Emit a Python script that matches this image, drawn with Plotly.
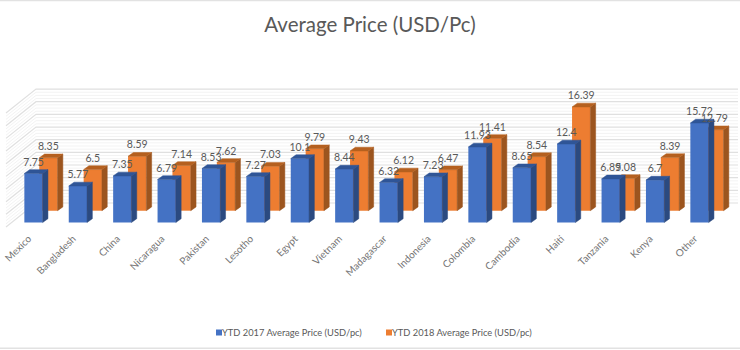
import numpy as np
import plotly.graph_objects as go

categories = ["Mexico", "Bangladesh", "China", "Nicaragua", "Pakistan", "Lesotho", "Egypt", "Vietnam",
              "Madagascar", "Indonesia", "Colombia", "Cambodia", "Haiti", "Tanzania", "Kenya", "Other"]
ytd_2017 = [7.75, 5.77, 7.35, 6.79, 8.53, 7.27, 10.1, 8.44, 6.32, 7.23, 11.93, 8.65, 12.4, 6.89, 6.7, 15.72]
ytd_2018 = [8.35, 6.5, 8.59, 7.14, 7.62, 7.03, 9.79, 9.43, 6.12, 6.47, 11.41, 8.54, 16.39, 5.08, 8.39, 12.79]
major_ticks = [0, 2, 4, 6, 8, 10, 12, 14, 16, 18]
minor_ticks = [t for t in np.arange(0, 18.01, 0.5) if t % 2]

# Scale of the picture: pixels per category / per value unit
W, H = 740, 350
PX_X, PX_Y = 44.4, 6.33
X0_PX, Y0_PX = 33.5, 222.5
xr = [-X0_PX / PX_X, (W - X0_PX) / PX_X]
yr = [(Y0_PX - H) / PX_Y, Y0_PX / PX_Y]

BAR_W = 18.3 / PX_X
DEPTH_X, DEPTH_Y = 5.3 / PX_X, 3.8 / PX_Y
OR_DX, OR_BASE = 14.9 / PX_X, 11.8 / PX_Y
WALL_BASE = 19.5 / PX_Y
WALL_X = (36 - X0_PX) / PX_X
WALL_FX, WALL_FY = -30 / PX_X, -24 / PX_Y
WALL_END = (738 - X0_PX) / PX_X
LABEL_UP = 10.5 / PX_Y

FONT = "Lato, Carlito, sans-serif"
BLUE, BLUE_S, BLUE_T = "#4472C4", "#2B4A80", "#2F5597"
ORANGE, ORANGE_S, ORANGE_T = "#ED7D31", "#9C551F", "#B5601F"


def wall_path(ticks):
    xs, ys = [], []
    for t in ticks:
        v = t + WALL_BASE
        xs += [WALL_X + WALL_FX, WALL_X, WALL_END, None]
        ys += [v + WALL_FY, v, v, None]
    return xs, ys


def faces(values, dx, base):
    sx, sy, tx, ty = [], [], [], []
    for i, v in enumerate(values):
        l, r = i + dx - BAR_W / 2, i + dx + BAR_W / 2
        top = v + base
        sx += [r, r + DEPTH_X, r + DEPTH_X, r, r, None]
        sy += [top, top + DEPTH_Y, base + DEPTH_Y, base, top, None]
        tx += [l, l + DEPTH_X, r + DEPTH_X, r, l, None]
        ty += [top, top + DEPTH_Y, top + DEPTH_Y, top, top, None]
    return sx, sy, tx, ty


def poly(x, y, color, ax):
    return go.Scatter(x=x, y=y, mode="lines", fill="toself", fillcolor=color,
                      line=dict(width=0.5, color=color), showlegend=False, hoverinfo="skip",
                      xaxis="x" + ax, yaxis="y" + ax)


fig = go.Figure()
idx = list(range(len(categories)))

# walls
for ticks, col, w in ((minor_ticks, "#F3F3F3", 1), (major_ticks, "#E0E0E0", 1.2)):
    x, y = wall_path(ticks)
    fig.add_trace(go.Scatter(x=x, y=y, mode="lines", line=dict(color=col, width=w),
                             showlegend=False, hoverinfo="skip", xaxis="x", yaxis="y"))

# 2018, behind
sx, sy, tx, ty = faces(ytd_2018, OR_DX, OR_BASE)
fig.add_trace(go.Bar(x=[i + OR_DX for i in idx], y=ytd_2018, base=OR_BASE, width=BAR_W,
                     marker=dict(color=ORANGE, line=dict(width=0)), showlegend=False,
                     xaxis="x2", yaxis="y2"))
fig.add_trace(poly(sx, sy, ORANGE_S, "2"))
fig.add_trace(poly(tx, ty, ORANGE_T, "2"))

# 2017, in front
sx, sy, tx, ty = faces(ytd_2017, 0, 0)
fig.add_trace(go.Bar(x=idx, y=ytd_2017, width=BAR_W,
                     marker=dict(color=BLUE, line=dict(width=0)), showlegend=False,
                     xaxis="x3", yaxis="y3"))
fig.add_trace(poly(sx, sy, BLUE_S, "3"))
fig.add_trace(poly(tx, ty, BLUE_T, "3"))

# value labels
fig.add_trace(go.Scatter(x=idx, y=[v + LABEL_UP for v in ytd_2017], text=[str(v) for v in ytd_2017],
                         mode="text", textposition="middle center",
                         textfont=dict(family=FONT, size=10.5, color="#595959"),
                         showlegend=False, hoverinfo="skip", xaxis="x4", yaxis="y4"))
fig.add_trace(go.Scatter(x=[i + OR_DX for i in idx], y=[v + OR_BASE + LABEL_UP for v in ytd_2018],
                         text=[str(v) for v in ytd_2018],
                         mode="text", textposition="middle center",
                         textfont=dict(family=FONT, size=10.5, color="#595959"),
                         showlegend=False, hoverinfo="skip", xaxis="x4", yaxis="y4"))

# legend entries
for name, col in (("YTD 2017 Average Price (USD/pc)", BLUE), ("YTD 2018 Average Price (USD/pc)", ORANGE)):
    fig.add_trace(go.Scatter(x=[None], y=[None], mode="markers", name=name,
                             marker=dict(symbol="square", size=6, color=col),
                             xaxis="x4", yaxis="y4"))

layout = dict(
    width=W, height=H, margin=dict(l=0, r=0, t=0, b=0), autosize=False,
    paper_bgcolor="white", plot_bgcolor="white", barmode="overlay",
    font=dict(family=FONT, color="#595959"),
    title=dict(text="Average Price (USD/Pc)", x=0.5, xanchor="center", y=0.93, yanchor="middle",
               font=dict(family=FONT, size=20.5, color="#595959")),
    legend=dict(orientation="h", x=182 / W, xanchor="left", y=0.05, yanchor="middle",
                entrywidth=125, entrywidthmode="pixels", itemwidth=30,
                font=dict(family=FONT, size=9.3, color="#595959"), bgcolor="rgba(0,0,0,0)"),
    xaxis=dict(range=xr, domain=[0, 1], anchor="free", position=(H - 230) / H, showgrid=False, zeroline=False,
               showline=False, ticks="", tickmode="array", tickvals=idx, ticktext=categories,
               ticklabelshift=-5,
               tickangle=-45, tickfont=dict(family=FONT, size=10, color="#757575"), fixedrange=True),
    yaxis=dict(range=yr, domain=[0, 1], visible=False, fixedrange=True),
    shapes=[dict(type="line", xref="paper", yref="paper", x0=0, x1=1, y0=y, y1=y,
                 line=dict(color="#E2E2E2", width=1.5)) for y in (0.9985, 0.005)],
)
for n in "234":
    layout["xaxis" + n] = dict(range=xr, overlaying="x", visible=False, fixedrange=True)
    layout["yaxis" + n] = dict(range=yr, overlaying="y", visible=False, fixedrange=True)
fig.update_layout(**layout)

post = """document.body.style.margin='0';
document.querySelectorAll('.legendsymbols').forEach(function(g){g.setAttribute('transform','translate(17,0)');});
document.querySelectorAll('.legend, .legend *').forEach(function(g){g.removeAttribute('clip-path');});
var lg=document.querySelector('.legend .bg'); if(lg){lg.setAttribute('width','400');}"""
fig.write_html("out.html", post_script=post, config=dict(displayModeBar=False))
